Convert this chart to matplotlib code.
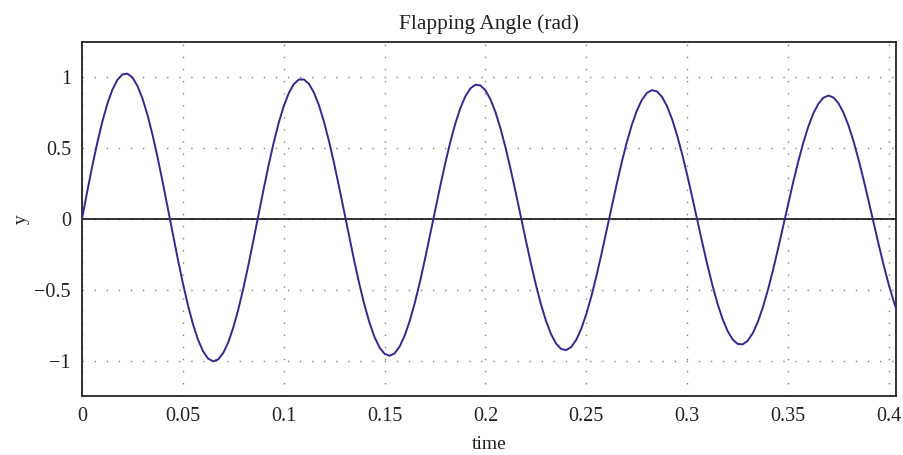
import matplotlib
matplotlib.use("Agg")
import matplotlib.pyplot as plt

# time samples (s)
t_step = 0.0025
time = [round(i * t_step, 4) for i in range(162)] + [0.4035]

# flapping angle (rad)
angle = [
    0.0, 0.1855, 0.3645, 0.5313, 0.6804, 0.8075, 0.9079, 0.9786, 1.0176, 1.0235,
    0.9961, 0.9367, 0.8469, 0.7301, 0.5895, 0.4304, 0.2576, 0.0769, -0.1059, -0.2849,
    -0.4543, -0.6087, -0.7428, -0.8528, -0.9345, -0.9861, -1.0055, -0.9922, -0.9470, -0.8711,
    -0.7671, -0.6386, -0.4895, -0.3250, -0.1504, 0.0288, 0.2066, 0.3773, 0.5354, 0.6757,
    0.7941, 0.8862, 0.9495, 0.9818, 0.9822, 0.9509, 0.8889, 0.7982, 0.6817, 0.5434,
    0.3880, 0.2202, 0.0457, -0.1298, -0.3008, -0.4615, -0.6071, -0.7327, -0.8340, -0.9082,
    -0.9527, -0.9664, -0.9487, -0.9002, -0.8227, -0.7185, -0.5917, -0.4459, -0.2859, -0.1171,
    0.0552, 0.2253, 0.3876, 0.5372, 0.6688, 0.7785, 0.8626, 0.9188, 0.9449, 0.9403,
    0.9054, 0.8413, 0.7497, 0.6345, 0.4988, 0.3473, 0.1848, 0.0169, -0.1513, -0.3141,
    -0.4664, -0.6032, -0.7200, -0.8135, -0.8802, -0.9183, -0.9264, -0.9046, -0.8536, -0.7750,
    -0.6713, -0.5462, -0.4039, -0.2487, -0.0859, 0.0794, 0.2416, 0.3957, 0.5365, 0.6596,
    0.7609, 0.8376, 0.8867, 0.9071, 0.8981, 0.8598, 0.7939, 0.7022, 0.5885, 0.4556,
    0.3084, 0.1516, -0.0098, -0.1704, -0.3252, -0.4689, -0.5972, -0.7058, -0.7913, -0.8508,
    -0.8828, -0.8858, -0.8603, -0.8071, -0.7276, -0.6250, -0.5023, -0.3636, -0.2135, -0.0569,
    0.1012, 0.2556, 0.4012, 0.5336, 0.6484, 0.7416, 0.8109, 0.8535, 0.8684, 0.8553,
    0.8143, 0.7471, 0.6558, 0.5438, 0.4141, 0.2714, 0.1204, -0.0342, -0.1872, -0.3338,
    -0.4692, -0.5891, -0.6316,
]

xticks = [0, 0.05, 0.1, 0.15, 0.2, 0.25, 0.3, 0.35, 0.4]
xtick_labels = ["0", "0.05", "0.1", "0.15", "0.2", "0.25", "0.3", "0.35", "0.4"]
yticks = [-1, -0.5, 0, 0.5, 1]
ytick_labels = ["\u22121", "\u22120.5", "0", "0.5", "1"]

plt.rcParams["font.family"] = ["Liberation Serif", "DejaVu Serif"]
text_color = "#222222"

fig = plt.figure(figsize=(9.04, 4.55), dpi=100)
ax = fig.add_axes([82 / 904, 1 - 396 / 455, (896 - 82) / 904, (396 - 41.5) / 455])

ax.set_xlim(0, 0.4035)
ax.set_ylim(-1.25, 1.25)

ax.grid(True, color="#808080", linestyle=(0, (1.0, 7.7)), linewidth=1.0)
ax.axhline(0, color="#111111", linewidth=1.2, zorder=2)
ax.plot(time, angle, color="#2f2a93", linewidth=1.4, zorder=3)

ax.set_xticks(xticks)
ax.set_xticklabels(xtick_labels)
ax.set_yticks(yticks)
ax.set_yticklabels(ytick_labels)
ax.tick_params(length=0, labelsize=14.5, colors=text_color, pad=8)

for s in ax.spines.values():
    s.set_color("#222222")
    s.set_linewidth(1.3)

ax.set_title("Flapping Angle (rad)", fontsize=15.5, color=text_color, pad=9)
ax.set_xlabel("time", fontsize=14, color=text_color, labelpad=7)
ax.set_ylabel("y", fontsize=14, color=text_color, labelpad=3)

fig.savefig("out.png", dpi=100)
